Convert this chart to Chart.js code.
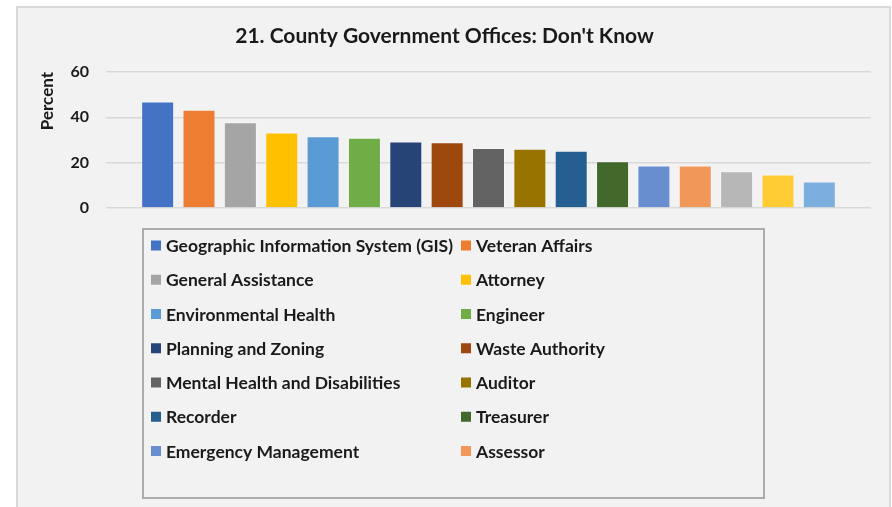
<!DOCTYPE html>
<html><head><meta charset="utf-8">
<script src="https://cdn.jsdelivr.net/npm/chart.js@4"></script>
<style>
html,body{margin:0;padding:0;background:#fff;width:892px;height:507px;overflow:hidden;}
#frame{position:absolute;left:16px;top:6px;width:875px;height:520px;box-sizing:border-box;border:2px solid #d9d9d9;background:#f2f2f2;}
#wrap{position:absolute;left:0;top:0;width:871px;height:499px;}
</style></head><body>
<div id="frame"><div id="wrap"><canvas id="c" width="871" height="499"></canvas></div></div>
<script>
const chartTitle = "21. County Government Offices: Don't Know";
const axisTitle = "Percent";
const categories = [
  "Geographic Information System (GIS)", "Veteran Affairs",
  "General Assistance", "Attorney",
  "Environmental Health", "Engineer",
  "Planning and Zoning", "Waste Authority",
  "Mental Health and Disabilities", "Auditor",
  "Recorder", "Treasurer",
  "Emergency Management", "Assessor",
  "Office 15", "Office 16", "Office 17"
];
const values = [47.0, 43.4, 37.8, 33.3, 31.7, 31.0, 29.3, 29.0, 26.5, 26.1, 25.3, 20.6, 18.8, 18.8, 16.2, 14.8, 11.7];
const colors = ["#4472C4","#ED7D31","#A5A5A5","#FFC000","#5B9BD5","#70AD47","#264478","#9E480E","#636363","#997300","#255E91","#43682B","#698ED0","#F1975A","#B7B7B7","#FFCD33","#7CAFDD"];
const yTicks = [0, 20, 40, 60];
const legendShown = 14;

const FONT = "Lato, 'Liberation Sans', sans-serif";
const TEXT = "#1a1a1a";

const boxLegend = {
  id: 'boxLegend',
  afterDraw(chart) {
    const ctx = chart.ctx;
    ctx.save();
    ctx.strokeStyle = '#ababab';
    ctx.lineWidth = 2;
    ctx.strokeRect(125, 221, 621, 269);
    ctx.font = "bold 17.5px " + FONT;
    ctx.textBaseline = 'middle';
    ctx.textAlign = 'left';
    chart.data.datasets.slice(0, legendShown).forEach((ds, i) => {
      const col = i % 2, row = Math.floor(i / 2);
      const mx = col ? 443 : 133;
      const y = 237.5 + row * 34.25;
      ctx.fillStyle = ds.backgroundColor;
      ctx.fillRect(mx, y - 5, 10, 10);
      ctx.fillStyle = TEXT;
      ctx.fillText(ds.label, mx + 15, y + 1);
    });
    ctx.restore();
  }
};

new Chart(document.getElementById('c'), {
  type: 'bar',
  data: {
    labels: [''],
    datasets: categories.map((name, i) => ({
      label: name,
      data: [values[i]],
      backgroundColor: colors[i],
      borderColor: 'rgba(255,255,255,0.3)',
      borderWidth: 1,
      categoryPercentage: 0.919,
      barPercentage: 0.798
    }))
  },
  options: {
    responsive: false,
    animation: false,
    layout: { padding: { top: 0, left: 0, right: 18, bottom: 299 } },
    plugins: {
      legend: { display: false },
      tooltip: { enabled: false },
      title: {
        display: true,
        text: chartTitle,
        color: TEXT,
        font: { family: FONT, size: 21, weight: 'bold' },
        padding: { top: 15.4, bottom: 23.4 }
      }
    },
    scales: {
      x: { display: false },
      y: {
        min: 0, max: 60,
        afterBuildTicks: (s) => { s.ticks = yTicks.map(v => ({ value: v })); },
        afterFit: (s) => { s.width = 88; },
        ticks: { color: TEXT, padding: 17, font: { family: FONT, size: 16, weight: 'bold' } },
        grid: { color: '#d9d9d9', lineWidth: 1.5, drawTicks: false },
        border: { display: false },
        title: {
          display: true, text: axisTitle, align: 'end', color: TEXT,
          font: { family: FONT, size: 17, weight: 'bold' },
          padding: { top: 19.8, bottom: 0 }
        }
      }
    }
  },
  plugins: [boxLegend]
});
</script>
</body></html>
